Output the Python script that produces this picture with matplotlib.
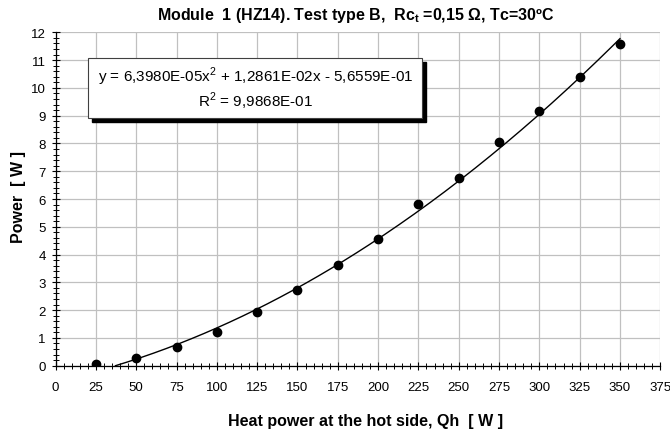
import matplotlib.pyplot as plt
from matplotlib.patches import Rectangle
from matplotlib.ticker import MultipleLocator
import numpy as np

plt.rcParams['font.family'] = ['Liberation Sans', 'DejaVu Sans']

# measured points
qh = [25, 50, 75, 100, 125, 150, 175, 200, 225, 250, 275, 300, 325, 350]
power = [0.07, 0.28, 0.68, 1.21, 1.92, 2.72, 3.64, 4.55, 5.82, 6.77, 8.07, 9.15, 10.40, 11.58]

# trendline coefficients as printed on the chart
fit_coef = [6.3980e-05, 1.2861e-02, -5.6559e-01]
fit_text = 'y = 6,3980E-05x$^\\mathregular{2}$ + 1,2861E-02x - 5,6559E-01'
r2_text = 'R$^\\mathregular{2}$ = 9,9868E-01'

fig = plt.figure(figsize=(6.7, 4.35), dpi=100)
ax = fig.add_axes([0.083, 0.157, 0.9025, 0.7664])

# trend curve from its root up to the last point
x0 = max(r.real for r in np.roots(fit_coef))
xs = np.linspace(x0, qh[-1], 200)
ax.plot(xs, np.polyval(fit_coef, xs), color='black', lw=1.0, zorder=3)
ax.plot(qh, power, 'o', color='black', ms=6, zorder=4)

ax.set_xlim(0, 375)
ax.set_ylim(0, 12)
ax.xaxis.set_major_locator(MultipleLocator(25))
ax.xaxis.set_minor_locator(MultipleLocator(5))
ax.yaxis.set_major_locator(MultipleLocator(1))
ax.yaxis.set_minor_locator(MultipleLocator(0.2))
ax.tick_params(which='major', direction='inout', length=6, width=0.8, labelsize=9.5)
ax.tick_params(which='minor', direction='inout', length=4, width=0.7)
ax.tick_params(axis='x', which='major', pad=8)
ax.tick_params(axis='y', which='major', pad=4)
ax.grid(True, which='major', color='#c0c0c0', lw=0.9)
ax.set_axisbelow(True)
for side in ['top', 'right']:
    ax.spines[side].set_visible(False)
for side in ['left', 'bottom']:
    ax.spines[side].set_linewidth(0.9)

fig.text(0.53, 0.9655, 'Module  1 (HZ14). Test type B,  Rc$_\\mathregular{t}$ =0,15 \u03a9, Tc=30\u00baC',
         ha='center', va='center', fontsize=11.5, fontweight='bold')
fig.text(0.545, 0.030, 'Heat power at the hot side, Qh  [ W ]', ha='center', va='center',
         fontsize=11.5, fontweight='bold')
fig.text(0.028, 0.547, 'Power  [ W ]', ha='center', va='center', rotation=90,
         fontsize=11.5, fontweight='bold')

# equation box with drop shadow
bx, by, bw, bh = 0.132, 0.7264, 0.498, 0.1379
dx, dy = 4 / 670, 4 / 435
fig.patches.append(Rectangle((bx + dx, by - dy), bw, bh, transform=fig.transFigure,
                             facecolor='black', edgecolor='black', zorder=5))
fig.patches.append(Rectangle((bx, by), bw, bh, transform=fig.transFigure,
                             facecolor='white', edgecolor='#404040', lw=0.8, zorder=6))
fig.text(bx + bw / 2, 0.823, fit_text, ha='center', va='center', fontsize=11, zorder=7)
fig.text(bx + bw / 2, 0.768, r2_text, ha='center', va='center', fontsize=11, zorder=7)

fig.savefig('out.png', dpi=100)
